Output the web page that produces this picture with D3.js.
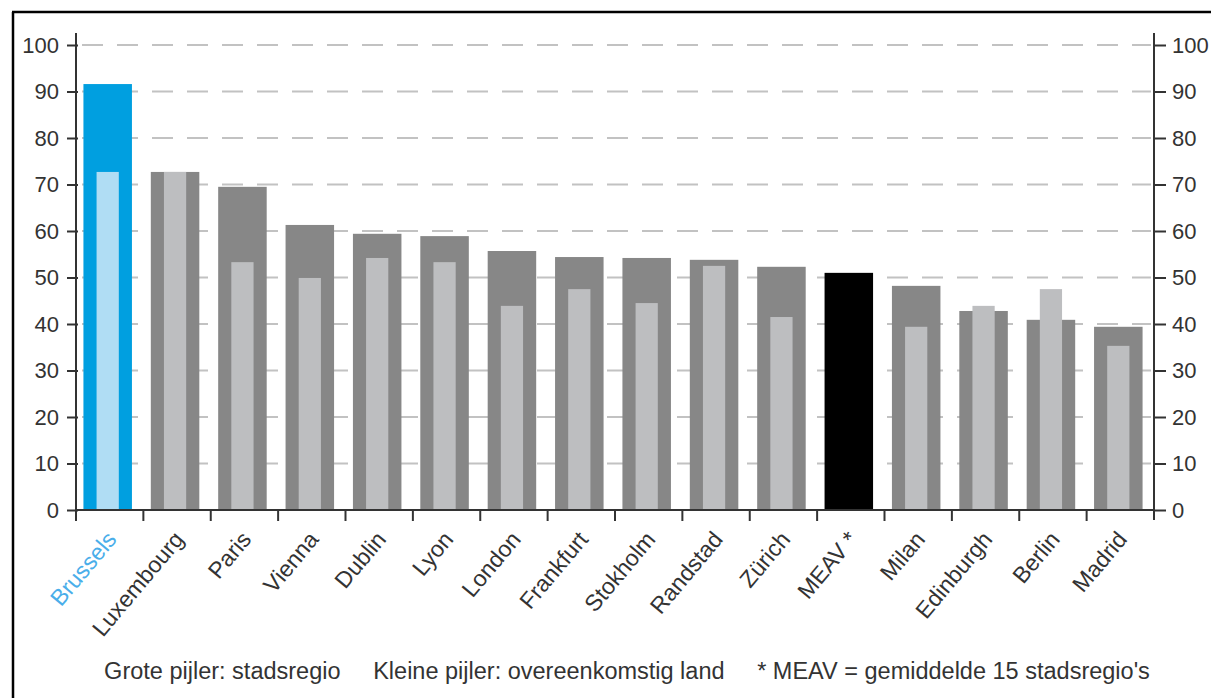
<!DOCTYPE html>
<html>
<head>
<meta charset="utf-8">
<script src="https://cdn.jsdelivr.net/npm/d3@7"></script>
<style>
  body { margin: 0; background: #fff; }
  svg text { font-family: "Liberation Sans", Arial, sans-serif; fill: #333; }
</style>
</head>
<body>
<svg id="chart" width="1211" height="698"></svg>
<script>
// Regions (large bar = city region, small bar = corresponding country)
const regions = ["Brussels", "Luxembourg", "Paris", "Vienna", "Dublin", "Lyon", "London", "Frankfurt",
    "Stokholm", "Randstad", "Zürich", "MEAV *", "Milan", "Edinburgh", "Berlin", "Madrid"];

const regionValues = [91.6, 72.7, 69.5, 61.3, 59.4, 58.9, 55.7, 54.4, 54.2, 53.8, 52.3, 51.0, 48.2, 42.8, 40.9, 39.4];

// null = no country bar (MEAV is the average)
const countryValues = [72.7, 72.7, 53.3, 49.9, 54.2, 53.3, 43.9, 47.5, 44.5, 52.5, 41.5, null, 39.4, 43.9, 47.5, 35.3];

const yTicks = [0, 10, 20, 30, 40, 50, 60, 70, 80, 90, 100];

const legendText = "Grote pijler: stadsregio     Kleine pijler: overeenkomstig land     * MEAV = gemiddelde 15 stadsregio's";

var svg = d3.select("#chart");

var x0 = 76, x1 = 1154, yTop = 45, yBase = 510;

var x = d3.scaleBand()
    .domain(regions)
    .range([x0, x1]);

var y = d3.scaleLinear()
    .domain([0, 100])
    .range([yBase, yTop]);

// frame
svg.append("line").attr("x1", 12).attr("x2", 1211).attr("y1", 12).attr("y2", 12)
    .attr("stroke", "#000").attr("stroke-width", 2.5);
svg.append("line").attr("x1", 13).attr("x2", 13).attr("y1", 12).attr("y2", 698)
    .attr("stroke", "#000").attr("stroke-width", 2.5);

// dashed gridlines
svg.append("g")
    .selectAll("line")
    .data(yTicks.filter(d => d > 0))
    .join("line")
    .attr("x1", x0 + 6)
    .attr("x2", x1 - 3)
    .attr("y1", d => y(d))
    .attr("y2", d => y(d))
    .attr("stroke", "#c2c2c2")
    .attr("stroke-width", 2)
    .attr("stroke-dasharray", "21,14");

// bars
var outerW = x.bandwidth() * 0.72;
var innerW = x.bandwidth() * 0.33;

svg.append("g")
    .selectAll("rect")
    .data(regions)
    .join("rect")
    .attr("x", d => x(d) + (x.bandwidth() - outerW) / 2 - 2)
    .attr("width", outerW)
    .attr("y", (d, i) => y(regionValues[i]))
    .attr("height", (d, i) => yBase - y(regionValues[i]))
    .attr("fill", (d, i) => i == 0 ? "#009fe0" : (d == "MEAV *" ? "#000" : "#878787"));

svg.append("g")
    .selectAll("rect")
    .data(regions.filter((d, i) => countryValues[i] != null))
    .join("rect")
    .attr("x", d => x(d) + (x.bandwidth() - innerW) / 2 - 2)
    .attr("width", innerW)
    .attr("y", d => y(countryValues[regions.indexOf(d)]))
    .attr("height", d => yBase - y(countryValues[regions.indexOf(d)]))
    .attr("fill", d => d == "Brussels" ? "#b0ddf4" : "#bdbec0");

// left axis
var leftAxis = svg.append("g")
    .attr("transform", `translate(${x0},0)`)
    .call(d3.axisLeft(y).tickValues(yTicks).tickSize(9).tickPadding(8));
leftAxis.selectAll(".tick line").attr("x2", -9).attr("x1", 2);

// right axis
var rightAxis = svg.append("g")
    .attr("transform", `translate(${x1},0)`)
    .call(d3.axisRight(y).tickValues(yTicks).tickSize(12).tickPadding(6));

[leftAxis, rightAxis].forEach(g => {
    g.select(".domain").remove();
    g.selectAll(".tick line").attr("stroke", "#333").attr("stroke-width", 2);
    g.selectAll(".tick text").style("font-size", "22px").attr("fill", "#333");
});

svg.append("line").attr("x1", x0).attr("x2", x0).attr("y1", 33).attr("y2", yBase + 10)
    .attr("stroke", "#333").attr("stroke-width", 2);
svg.append("line").attr("x1", x1).attr("x2", x1).attr("y1", 33).attr("y2", yBase + 10)
    .attr("stroke", "#333").attr("stroke-width", 2);

// x axis with ticks at band boundaries
svg.append("line").attr("x1", x0).attr("x2", x1).attr("y1", yBase).attr("y2", yBase)
    .attr("stroke", "#333").attr("stroke-width", 2);
svg.append("g")
    .selectAll("line")
    .data(regions)
    .join("line")
    .attr("x1", d => x(d))
    .attr("x2", d => x(d))
    .attr("y1", yBase)
    .attr("y2", yBase + 11)
    .attr("stroke", "#333")
    .attr("stroke-width", 2);

// category labels
svg.append("g")
    .selectAll("text")
    .data(regions)
    .join("text")
    .attr("transform", d => `translate(${x(d) + x.bandwidth() / 2 + 8},${yBase + 30}) rotate(-50)`)
    .attr("text-anchor", "end")
    .style("font-size", "23px")
    .style("fill", (d, i) => i == 0 ? "#4aaeea" : "#333")
    .text(d => d);

// legend line
svg.append("text")
    .attr("x", 627)
    .attr("y", 679)
    .attr("text-anchor", "middle")
    .style("font-size", "23.5px")
    .style("white-space", "pre")
    .attr("xml:space", "preserve")
    .text(legendText);
</script>
</body>
</html>
